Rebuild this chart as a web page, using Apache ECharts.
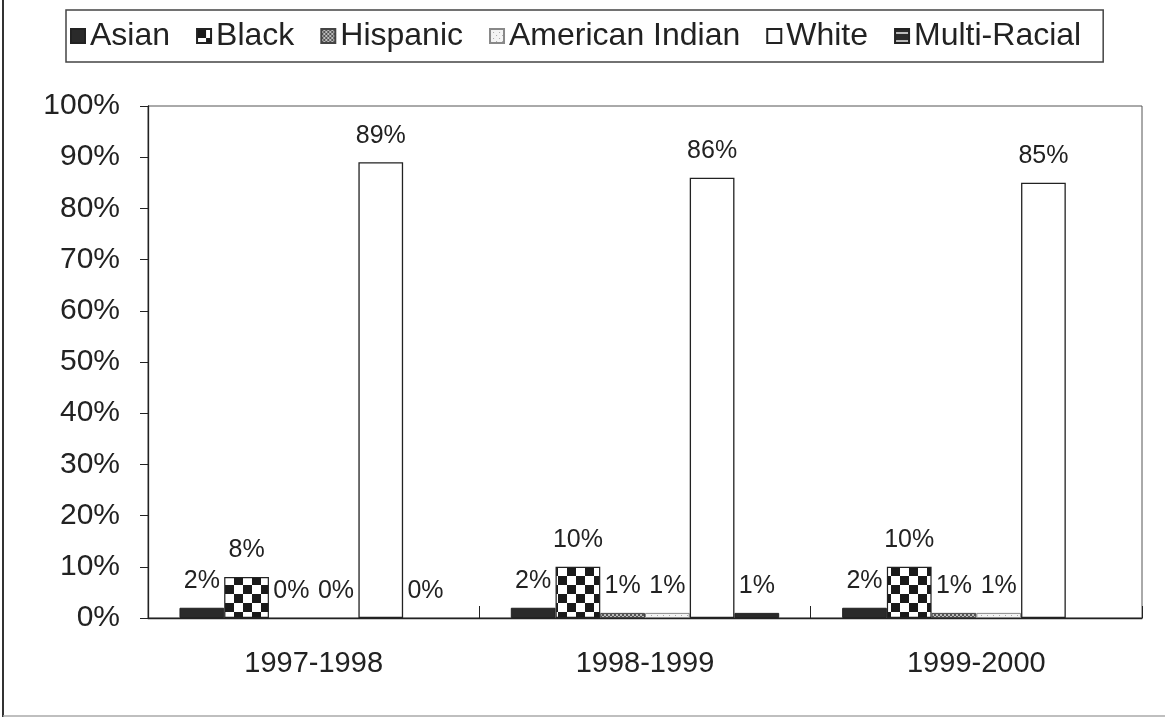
<!DOCTYPE html>
<html>
<head>
<meta charset="utf-8">
<script src="https://cdn.jsdelivr.net/npm/echarts@6/dist/echarts.min.js"></script>
<style>
html,body{margin:0;padding:0;background:#fff;}
#chart{width:1167px;height:719px;}
</style>
</head>
<body>
<div id="chart"></div>
<script>
var categories = ['1997-1998', '1998-1999', '1999-2000'];
var seriesNames = ['Asian', 'Black', 'Hispanic', 'American Indian', 'White', 'Multi-Racial'];
var asian = [2, 2, 2];
var black = [8, 10, 10];
var hispanic = [0, 1, 1];
var americanIndian = [0, 1, 1];
var white = [89, 86, 85];
var multiRacial = [0, 1, null];
var yTicks = [0, 10, 20, 30, 40, 50, 60, 70, 80, 90, 100];

function makePattern(size, draw) {
  var c = document.createElement('canvas');
  c.width = size; c.height = size;
  var ctx = c.getContext('2d');
  draw(ctx, size);
  return { image: c, repeat: 'repeat' };
}
var checker = makePattern(18, function (ctx, s) {
  ctx.fillStyle = '#fff'; ctx.fillRect(0, 0, s, s);
  ctx.fillStyle = '#1a1a1a';
  ctx.fillRect(0, 0, 9, 9); ctx.fillRect(9, 9, 9, 9);
});
var hispPat = makePattern(4, function (ctx, s) {
  ctx.fillStyle = '#bbb'; ctx.fillRect(0, 0, s, s);
  ctx.fillStyle = '#555';
  ctx.fillRect(0, 0, 2, 2); ctx.fillRect(2, 2, 2, 2);
});
var amPat = makePattern(6, function (ctx, s) {
  ctx.fillStyle = '#f4f4f4'; ctx.fillRect(0, 0, s, s);
  ctx.fillStyle = '#aaa';
  ctx.fillRect(0, 0, 1, 1); ctx.fillRect(3, 3, 1, 1);
});
var multiPat = makePattern(8, function (ctx, s) {
  ctx.fillStyle = '#2a2a2a'; ctx.fillRect(0, 0, s, s);
  ctx.fillStyle = '#bbb'; ctx.fillRect(0, 3, s, 2);
});

var values = [asian, black, hispanic, americanIndian, white, multiRacial];
var styles = [
  { color: '#2a2a2a', borderColor: '#222', borderWidth: 1 },
  { color: checker, borderColor: '#222', borderWidth: 1.2 },
  { color: hispPat, borderColor: '#444', borderWidth: 1 },
  { color: amPat, borderColor: '#888', borderWidth: 1 },
  { color: '#ffffff', borderColor: '#222', borderWidth: 1.3 },
  { color: multiPat, borderColor: '#222', borderWidth: 1 }
];
var FONT = '"Liberation Sans", Arial, sans-serif';

var series = seriesNames.map(function (n, i) {
  return {
    name: n,
    type: 'bar',
    data: values[i].map(function (v) {
      // zero-height bars show no outline in the reference
      return v === 0 ? { value: v, itemStyle: { borderWidth: 0, opacity: 0 } } : v;
    }),
    barGap: '0%',
    barCategoryGap: '19%',
    itemStyle: styles[i],
    label: {
      show: true,
      position: 'top',
      distance: 14,
      formatter: function (p) { return p.value == null ? '' : p.value + '%'; },
      color: '#222',
      opacity: 1,
      fontSize: 25,
      fontFamily: FONT
    }
  };
});

var chart = echarts.init(document.getElementById('chart'), null, { renderer: 'canvas' });
chart.setOption({
  animation: false,
  backgroundColor: '#fff',
  textStyle: { fontFamily: FONT },
  legend: {
    data: seriesNames,
    left: 66,
    top: 10,
    padding: [10, 22, 10, 4],
    itemGap: 26,
    itemWidth: 14,
    itemHeight: 14,
    icon: 'rect',
    borderColor: '#444',
    borderWidth: 1.5,
    textStyle: { fontSize: 32, color: '#222', fontFamily: FONT }
  },
  grid: { left: 148, right: 25, top: 106, bottom: 101, show: true, borderColor: '#555', borderWidth: 1 },
  xAxis: {
    type: 'category',
    data: categories,
    axisLine: { lineStyle: { color: '#222', width: 1.3 } },
    axisTick: { show: true, inside: true, length: 12, lineStyle: { color: '#222' } },
    axisLabel: { fontSize: 29, color: '#222', margin: 31, fontFamily: FONT }
  },
  yAxis: {
    type: 'value',
    min: yTicks[0],
    max: yTicks[yTicks.length - 1],
    interval: yTicks[1] - yTicks[0],
    splitLine: { show: false },
    axisLine: { show: true, lineStyle: { color: '#222', width: 1.3 } },
    axisTick: { show: true, length: 8, lineStyle: { color: '#222' } },
    axisLabel: { formatter: '{value}%', fontSize: 30, color: '#222', margin: 28, fontFamily: FONT }
  },
  graphic: [
    { type: 'line', shape: { x1: 3, y1: 0, x2: 3, y2: 717 }, style: { stroke: '#333', lineWidth: 2 } },
    { type: 'line', shape: { x1: 3, y1: 716, x2: 1165, y2: 716 }, style: { stroke: '#aaa', lineWidth: 1.5 } }
  ],
  series: series
});
</script>
</body>
</html>
